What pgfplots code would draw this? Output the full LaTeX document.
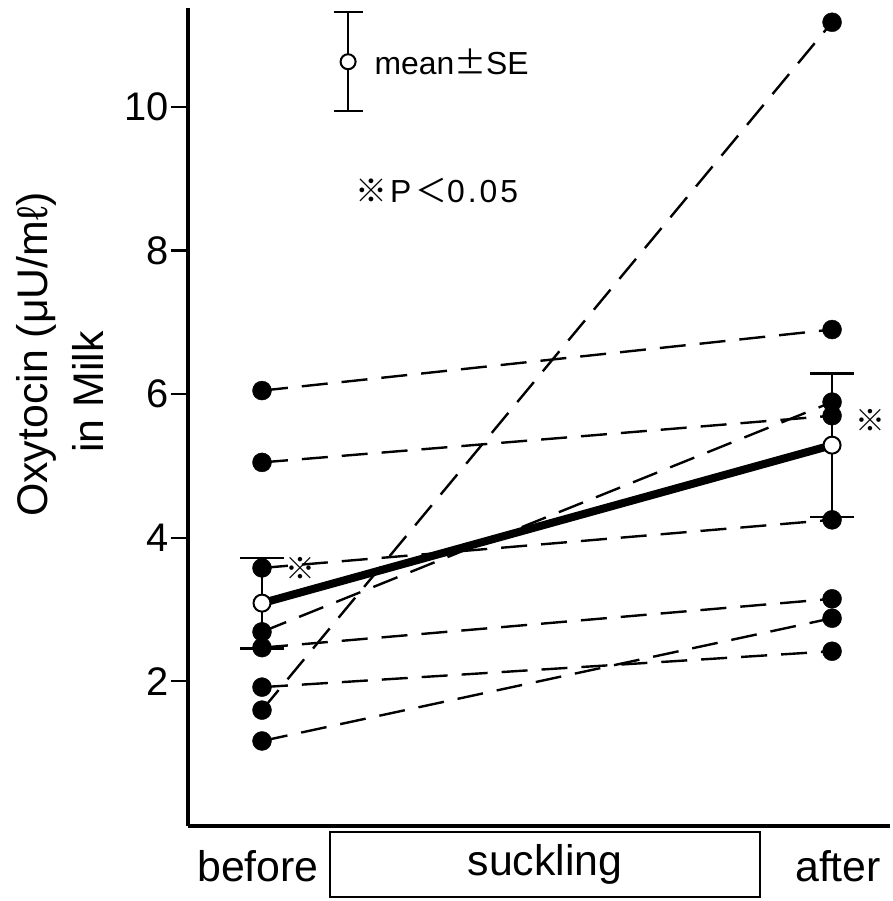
\documentclass[border=0pt]{standalone}
\usepackage{pgfplots}
\pgfplotsset{compat=1.18}
\usepackage{fontspec}
\setmainfont{Liberation Sans}
\newfontfamily\cjk{Noto Sans CJK JP}

\begin{document}
\begin{tikzpicture}
\begin{axis}[
  scale only axis,
  width=702bp, height=818bp,
  xmin=-0.1298, xmax=1.1018,
  ymin=-0.014, ymax=11.38,
  axis x line=bottom, axis y line=left,
  axis line style={-, line width=4.5bp},
  xtick=\empty,
  ytick={2,4,6,8,10},
  tick align=outside,
  major tick length=17bp,
  tick style={line width=2.2bp, black},
  y tick label style={font=\fontsize{40}{44}\selectfont, inner sep=2bp},
  /pgf/number format/assume math mode=true,
  clip=false,
]
% canvas extent
\path (axis cs:-0.4596,-1.0585) rectangle (axis cs:1.1018,11.49);

% individual subjects, before -> after
\pgfplotsset{subj/.style={black, line width=2.4bp, dash pattern=on 26bp off 14bp, mark=none}}
\addplot[subj] coordinates {(0,6.05) (1,6.90)};
\addplot[subj] coordinates {(0,5.05) (1,5.70)};
\addplot[subj] coordinates {(0,3.58) (1,4.25)};
\addplot[subj] coordinates {(0,2.69) (1,5.89)};
\addplot[subj] coordinates {(0,2.47) (1,3.15)};
\addplot[subj] coordinates {(0,1.92) (1,2.42)};
\addplot[subj] coordinates {(0,1.60) (1,11.18)};
\addplot[subj] coordinates {(0,1.17) (1,2.88)};

% mean line
\addplot[black, line width=8bp, mark=none] coordinates {(0,3.09) (1,5.29)};

% individual values
\addplot[only marks, mark=*, mark size=9.5bp, black] coordinates {
  (0,6.05) (0,5.05) (0,3.58) (0,2.69) (0,2.47) (0,1.92) (0,1.60) (0,1.17)
  (1,11.18) (1,6.90) (1,5.89) (1,5.70) (1,4.25) (1,3.15) (1,2.88) (1,2.42)};

% mean +- SE
\addplot[only marks, mark=*, mark size=8.5bp,
  mark options={fill=white, draw=black, line width=2bp},
  error bars/.cd, y dir=both, y explicit,
  error bar style={line width=2.2bp, black},
  error mark options={rotate=90, mark size=22bp, line width=2.4bp, black}]
  coordinates {(0,3.09) +- (0,0.63) (1,5.29) +- (0,1.00)};

% key symbol
\addplot[only marks, mark=*, mark size=7.5bp,
  mark options={fill=white, draw=black, line width=2bp},
  error bars/.cd, y dir=both, y explicit,
  error bar style={line width=2.2bp, black},
  error mark options={rotate=90, mark size=14.5bp, line width=2.4bp, black}]
  coordinates {(0.151,10.63) +- (0,0.69)};

\node[anchor=west, font=\fontsize{32}{36}\selectfont, inner sep=0pt]
  at (axis cs:0.197,10.63) {mean{\cjk ±}SE};
\node[anchor=west, font=\fontsize{32}{36}\selectfont, inner sep=0pt]
  at (axis cs:0.163,8.84) {{\cjk ※}\kern3bp P\kern4bp{\cjk ＜}0\kern3bp.\kern3bp0\kern3bp5};

% significance marks
\node[font=\fontsize{30}{32}\selectfont\cjk, inner sep=0pt] at (axis cs:0.0667,3.58) {※};
\node[font=\fontsize{30}{32}\selectfont\cjk, inner sep=0pt] at (axis cs:1.067,5.64) {※};

% y axis title
\node[rotate=90, font=\fontsize{43}{48}\selectfont, inner sep=0pt]
  at (axis cs:-0.395,6.55) {Oxytocin (μU/mℓ)};
\node[rotate=90, font=\fontsize{43}{48}\selectfont, inner sep=0pt]
  at (axis cs:-0.305,6.03) {in Milk};

% time axis labels
\draw[line width=2.2bp] (axis cs:0.119,-0.0975) rectangle (axis cs:0.874,-1.003);
\node[font=\fontsize{43}{48}\selectfont, inner sep=0pt] at (axis cs:0.4965,-0.55) {suckling};
\node[font=\fontsize{43}{48}\selectfont, inner sep=0pt] at (axis cs:-0.007,-0.58) {before};
\node[font=\fontsize{43}{48}\selectfont, inner sep=0pt] at (axis cs:1.0105,-0.58) {after};
\end{axis}
\end{tikzpicture}
\end{document}
